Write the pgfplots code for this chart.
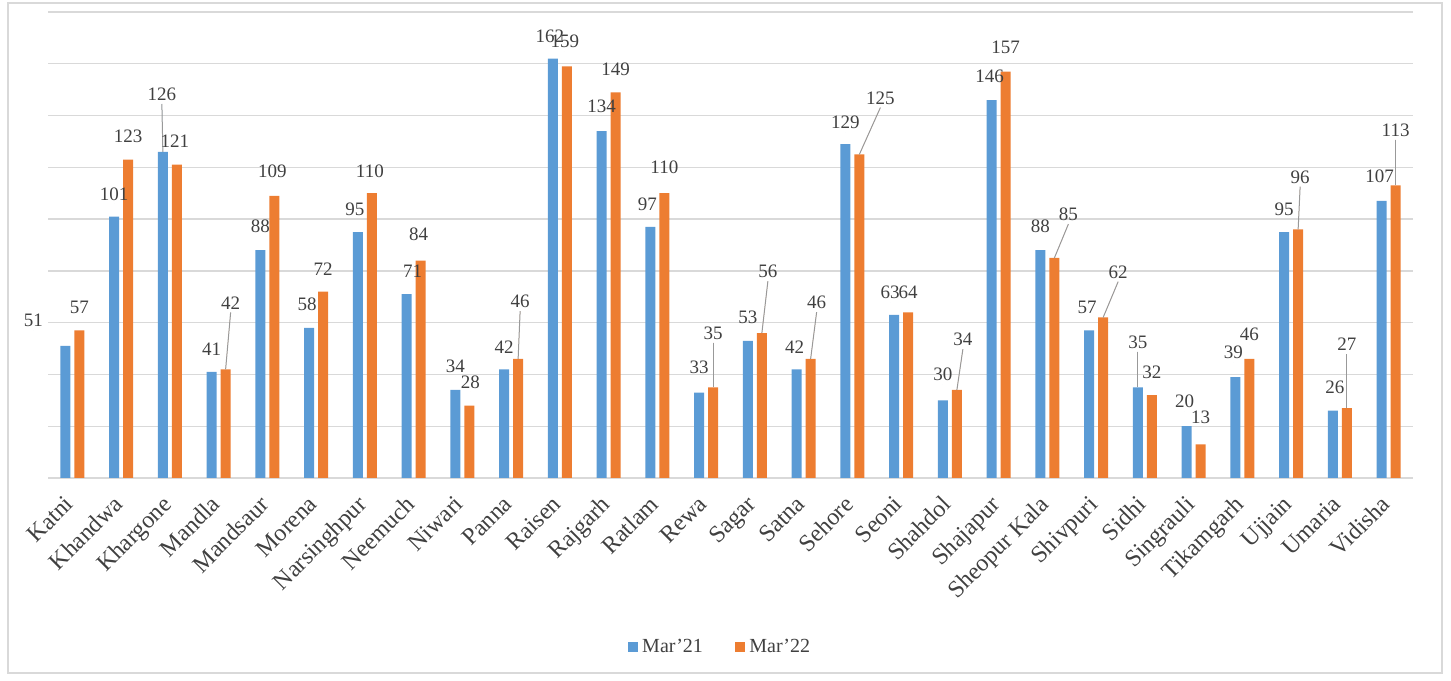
\documentclass[border=0pt]{standalone}
\usepackage{fontspec}
\setmainfont{Liberation Serif}
\usepackage{pgfplots}
\usepackage{pgfplotstable}
\pgfplotsset{compat=1.18}
\definecolor{cblue}{HTML}{5B9BD5}
\definecolor{corange}{HTML}{ED7D31}
\definecolor{cgrid}{HTML}{D9D9D9}
\definecolor{clab}{HTML}{404040}

% x value dx dy(center, pt) lead
\pgfplotstableread{
x y dx dy ld
0 51 -16 12.5 0
1 101 0 11 0
2 126 -0.5 28.5 1
3 41 0 11 0
4 88 0 11.5 0
5 58 -1 11.5 0
6 95 -1.5 11 0
7 71 3 11 0
8 34 0 11.5 0
9 42 0 11 0
10 162 -1.5 11 0
11 134 0 12 0
12 97 -1.5 11 0
13 33 0 12.5 0
14 53 0 11.5 0
15 42 -1 11 0
16 129 0 10.5 0
17 63 -2 11 0
18 30 0 12.5 0
19 146 -1 11.5 0
20 88 0 11.5 0
21 57 -1 11.5 0
22 35 0 22.5 1
23 20 -1 12 0
24 39 -1 12 0
25 95 0 11 0
26 26 1 11.5 0
27 107 -1 12 0
}\tblA

\pgfplotstableread{
x y dx dy ld
0 57 0 11.5 0
1 123 0 11.5 0
2 121 -1 11.5 0
3 42 2.5 33 1
4 109 -1 12 0
5 72 0 11 0
6 110 -1 10.5 0
7 84 -1 13 0
8 28 0.5 11.5 0
9 46 1 28.5 1
10 159 -1 12 0
11 149 0 11 0
12 110 0 12.5 0
13 35 0 27 1
14 56 3 30.5 1
15 46 3 28 1
16 125 10.5 28 1
17 64 0 9.5 0
18 34 3 25 1
19 157 0 12 0
20 85 7 21.5 1
21 62 7.5 22.5 1
22 32 0 11 0
23 13 0 13 0
24 46 0 12 0
25 96 1 26 1
26 27 0 31.5 1
27 113 0 27.5 1
}\tblB

\begin{document}
\begin{tikzpicture}
\path[use as bounding box] (0,0) rectangle (725.5pt,340pt);
\draw[cgrid, line width=0.8pt] (4pt,3.5pt) rectangle (721pt,338.5pt);
\begin{axis}[
  at={(24pt,101pt)}, anchor=south west,
  scale only axis, width=682.5pt, height=233pt,
  /pgf/number format/assume math mode=true,
  ybar=2pt, bar width=5pt,
  xmin=-0.5, xmax=27.5, ymin=0, ymax=180,
  ytick={0,20,...,180}, yticklabels={},
  ymajorgrids, grid style={cgrid, line width=0.7pt},
  xtick={0,...,27},
  xticklabels={Katni, Khandwa, Khargone, Mandla, Mandsaur, Morena, Narsinghpur, Neemuch, Niwari, Panna, Raisen, Rajgarh, Ratlam, Rewa, Sagar, Satna, Sehore, Seoni, Shahdol, Shajapur, Sheopur Kala, Shivpuri, Sidhi, Singrauli, Tikamgarh, Ujjain, Umaria, Vidisha},
  xticklabel style={xshift=-4.5pt, yshift=-6.5pt, rotate=45, anchor=north east, font=\fontsize{12}{14}\selectfont, text=clab, inner sep=1pt},
  major tick length=0pt,
  axis x line*=bottom, axis y line*=left,
  axis line style={draw=none},
  clip=false,
  visualization depends on={\thisrow{dx}\as\labdx},
  visualization depends on={\thisrow{dy}\as\labdy},
  visualization depends on={\thisrow{ld}\as\labld},
  nodes near coords,
  every node near coord/.append style={anchor=south,
     xshift=\labdx pt, yshift={(\labdy-4.6)*1pt},
     font=\fontsize{9.5}{11}\selectfont, text=clab, inner sep=1.5pt,
     append after command={(\tikzlastnode.south) edge[draw=gray!80, line width=0.5pt] ([shift={({-1*(\labld)*(\labdx)*1pt},{-1*(\labld)*(\labdy-4.6)*1pt})}]\tikzlastnode.south)}},
  legend style={at={(0.493,-0.363)}, anchor=center, draw=none, fill=none,
     legend columns=2, font=\fontsize{10}{12}\selectfont, text=clab,
     /tikz/every even column/.append style={column sep=14pt}},
  legend image code/.code={\fill[#1] (0pt,-2.6pt) rectangle (5.2pt,2.6pt);},
]
\addplot[fill=cblue, draw=none] table[x=x, y=y] \tblA;
\addplot[fill=corange, draw=none] table[x=x, y=y] \tblB;
\legend{Mar'21, Mar'22}
\end{axis}
\end{tikzpicture}
\end{document}
